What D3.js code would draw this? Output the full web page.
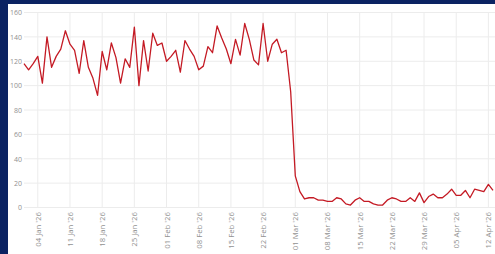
<!DOCTYPE html>
<html lang="en">
<head>
  <meta charset="UTF-8">
  <title>Daily count</title>
  <script src="https://cdn.jsdelivr.net/npm/d3@7"></script>
  <style>
    html, body { margin: 0; padding: 0; background: #0b2362; }
    svg { display: block; }
    .axis text { fill: #919191; font-family: "Open Sans", sans-serif; font-size: 7px; }
    .x-axis text { font-size: 7.8px; }
    .grid line { stroke: #ececec; stroke-width: 1; }
  </style>
</head>
<body>
  <svg id="chart" width="495" height="254"></svg>
  <script>
    // Daily values, 01 Jan '26 to 13 Apr '26
    const startDate = '2026-01-01';
    const janValues = [118, 113, 118, 124, 102, 140, 115, 124, 130, 145,
                       134, 129, 110, 137, 115, 106, 92, 128, 113, 135,
                       123, 102, 122, 115, 148, 100, 137, 112, 143, 133, 135];
    const febValues = [120, 124, 129, 111, 137, 130, 124, 113, 116, 132,
                       127, 149, 139, 130, 118, 138, 125, 151, 138, 121,
                       117, 151, 120, 134, 138, 127, 129, 95];
    const marValues = [26, 13, 7, 8, 8, 6, 6, 5, 5, 8,
                       7, 3, 2, 6, 8, 5, 5, 3, 2, 2,
                       6, 8, 7, 5, 5, 8, 5, 12, 4, 9, 11];
    const aprValues = [8, 8, 11, 15, 10, 10, 14, 8, 15, 14, 13, 19, 14];
    const yTicks = [0, 20, 40, 60, 80, 100, 120, 140, 160];

    const values = [...janValues, ...febValues, ...marValues, ...aprValues];
    const parse = d3.timeParse('%Y-%m-%d');
    const day0 = parse(startDate);
    const data = values.map((v, i) => ({ date: d3.timeDay.offset(day0, i), value: v }));

    const svg = d3.select('#chart');
    const W = 495, H = 254;
    const m = { top: 12.5, right: 2, bottom: 46.5, left: 24 };

    // white panel on the navy frame
    svg.append('rect').attr('width', W).attr('height', H).attr('fill', '#0b2362');
    svg.append('rect').attr('x', 8).attr('y', 4).attr('width', W - 8).attr('height', H - 4).attr('fill', '#ffffff');

    const x = d3.scaleTime()
      .domain(d3.extent(data, d => d.date))
      .range([m.left, W - m.right]);
    const y = d3.scaleLinear()
      .domain([0, 160])
      .range([H - m.bottom, m.top]);

    const xTicks = d3.timeWeek.range(d3.timeDay.offset(day0, 1), d3.timeDay.offset(data[data.length - 1].date, 1));

    // grid
    svg.append('g').attr('class', 'grid')
      .selectAll('line.h').data(yTicks).join('line')
        .attr('x1', m.left).attr('x2', W)
        .attr('y1', d => y(d)).attr('y2', d => y(d));
    svg.append('g').attr('class', 'grid')
      .selectAll('line.v').data(xTicks).join('line')
        .attr('x1', d => x(d)).attr('x2', d => x(d))
        .attr('y1', y(160)).attr('y2', y(0));

    // y axis
    svg.append('g').attr('class', 'axis')
      .attr('transform', `translate(${m.left - 2},0)`)
      .call(d3.axisLeft(y).tickValues(yTicks).tickSize(0).tickPadding(0))
      .call(g => g.select('.domain').remove());

    // x axis, rotated labels
    svg.append('g').attr('class', 'axis x-axis')
      .attr('transform', `translate(0,${y(0) + 4.5})`)
      .call(d3.axisBottom(x).tickValues(xTicks).tickFormat(d3.timeFormat("%d %b '%y")).tickSize(0).tickPadding(0))
      .call(g => g.select('.domain').remove())
      .selectAll('text')
        .attr('text-anchor', 'end')
        .attr('dy', '0.32em')
        .attr('transform', 'rotate(-90)')
        .attr('x', 0).attr('y', 0);

    // line
    const line = d3.line().x(d => x(d.date)).y(d => y(d.value));
    svg.append('path')
      .datum(data)
      .attr('fill', 'none')
      .attr('stroke', '#c41a24')
      .attr('stroke-width', 1.3)
      .attr('stroke-linejoin', 'round')
      .attr('d', line);
  </script>
</body>
</html>
